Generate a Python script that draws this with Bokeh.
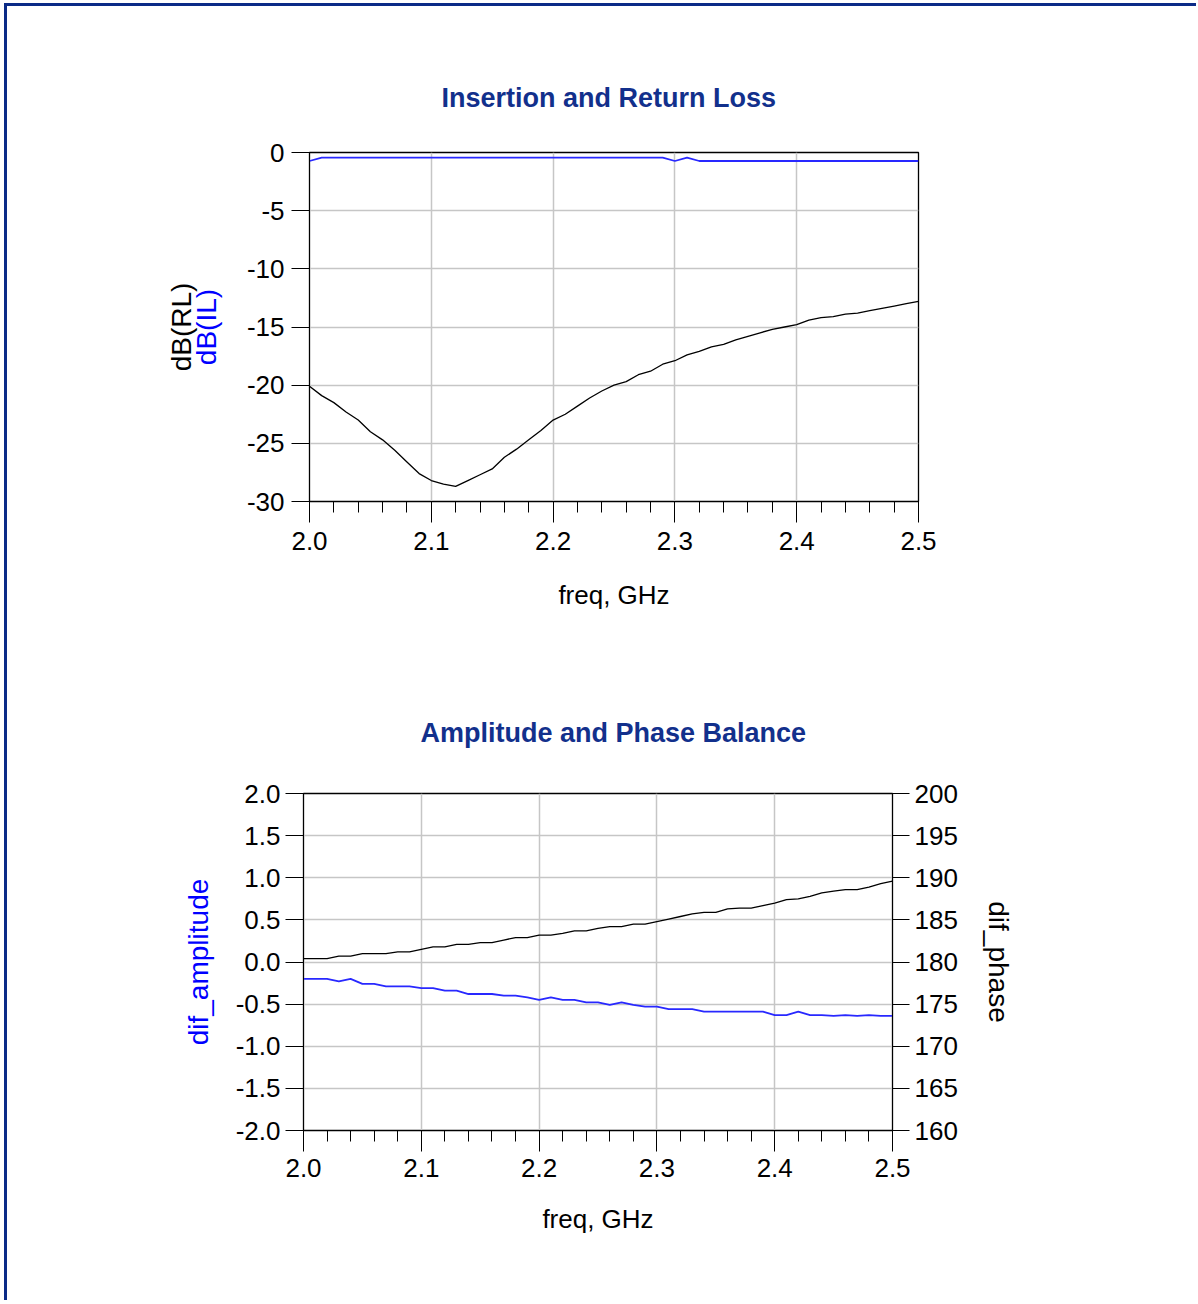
from bokeh.plotting import figure
from bokeh.models import (LinearAxis, Range1d, FixedTicker, Title, Column,
                          PrintfTickFormatter)
from bokeh.embed import file_html
from bokeh.resources import INLINE

# ---------------- data ----------------
freq = [2.00, 2.01, 2.02, 2.03, 2.04, 2.05, 2.06, 2.07, 2.08, 2.09,
        2.10, 2.11, 2.12, 2.13, 2.14, 2.15, 2.16, 2.17, 2.18, 2.19,
        2.20, 2.21, 2.22, 2.23, 2.24, 2.25, 2.26, 2.27, 2.28, 2.29,
        2.30, 2.31, 2.32, 2.33, 2.34, 2.35, 2.36, 2.37, 2.38, 2.39,
        2.40, 2.41, 2.42, 2.43, 2.44, 2.45, 2.46, 2.47, 2.48, 2.49, 2.50]

db_rl = [-20.1, -20.9, -21.5, -22.3, -23.0, -24.0, -24.7, -25.6, -26.6, -27.6,
         -28.2, -28.5, -28.7, -28.2, -27.7, -27.2, -26.2, -25.5, -24.7, -23.9,
         -23.0, -22.5, -21.8, -21.1, -20.5, -20.0, -19.7, -19.1, -18.8, -18.2,
         -17.9, -17.4, -17.1, -16.7, -16.5, -16.1, -15.8, -15.5, -15.2, -15.0,
         -14.8, -14.4, -14.2, -14.1, -13.9, -13.8, -13.6, -13.4, -13.2, -13.0, -12.8]

db_il = [-0.73, -0.44, -0.44, -0.44, -0.44, -0.44, -0.44, -0.44, -0.44, -0.44,
         -0.44, -0.44, -0.44, -0.44, -0.44, -0.44, -0.44, -0.44, -0.44, -0.44,
         -0.44, -0.44, -0.44, -0.44, -0.44, -0.44, -0.44, -0.44, -0.44, -0.44,
         -0.73, -0.44, -0.73, -0.73, -0.73, -0.73, -0.73, -0.73, -0.73, -0.73,
         -0.73, -0.73, -0.73, -0.73, -0.73, -0.73, -0.73, -0.73, -0.73, -0.73, -0.73]

dif_amplitude = [-0.20, -0.20, -0.20, -0.23, -0.20, -0.26, -0.26, -0.29, -0.29, -0.29,
                 -0.31, -0.31, -0.34, -0.34, -0.38, -0.38, -0.38, -0.40, -0.40, -0.42,
                 -0.45, -0.42, -0.45, -0.45, -0.48, -0.48, -0.51, -0.48, -0.51, -0.53,
                 -0.53, -0.56, -0.56, -0.56, -0.59, -0.59, -0.59, -0.59, -0.59, -0.59,
                 -0.63, -0.63, -0.59, -0.63, -0.63, -0.64, -0.63, -0.64, -0.63, -0.64, -0.64]

dif_phase = [180.4, 180.4, 180.4, 180.7, 180.7, 181.0, 181.0, 181.0, 181.2, 181.2,
             181.5, 181.8, 181.8, 182.1, 182.1, 182.3, 182.3, 182.6, 182.9, 182.9,
             183.2, 183.2, 183.4, 183.7, 183.7, 184.0, 184.2, 184.2, 184.5, 184.5,
             184.8, 185.1, 185.4, 185.7, 185.9, 185.9, 186.3, 186.4, 186.4, 186.7,
             187.0, 187.4, 187.5, 187.8, 188.2, 188.4, 188.6, 188.6, 188.9, 189.3, 189.6]

x_major = [2.0, 2.1, 2.2, 2.3, 2.4, 2.5]
x_minor = [2.02, 2.04, 2.06, 2.08, 2.12, 2.14, 2.16, 2.18, 2.22, 2.24, 2.26, 2.28,
           2.32, 2.34, 2.36, 2.38, 2.42, 2.44, 2.46, 2.48]
y1_ticks = [-30, -25, -20, -15, -10, -5, 0]
y2_ticks = [-2.0, -1.5, -1.0, -0.5, 0.0, 0.5, 1.0, 1.5, 2.0]
y2r_ticks = [160, 165, 170, 175, 180, 185, 190, 195, 200]

FONT = "Liberation Sans"
NAVY = "#12308C"
BLUE = "#0000FF"
LINEBLUE = "#2828FF"
GRID = "#C6C6C6"


def style_common(p):
    p.background_fill_color = "white"
    p.border_fill_color = "white"
    p.border_fill_alpha = 0
    p.outline_line_color = "black"
    p.outline_line_width = 1.3
    p.xgrid.grid_line_color = GRID
    p.ygrid.grid_line_color = GRID
    p.xgrid.grid_line_width = 1.5
    p.ygrid.grid_line_width = 1.5
    for ax in p.xaxis:
        ax.ticker = FixedTicker(ticks=x_major, minor_ticks=x_minor)
        ax.formatter = PrintfTickFormatter(format="%.1f")
        ax.major_tick_out = 21
        ax.major_tick_in = 0
        ax.minor_tick_out = 11
        ax.minor_tick_in = 0
        ax.major_tick_line_color = "black"
        ax.minor_tick_line_color = "black"
        ax.axis_line_color = "black"
        ax.major_label_text_font = FONT
        ax.major_label_text_font_size = "26px"
        ax.major_label_text_color = "black"
        ax.axis_label = "freq, GHz"
        ax.axis_label_text_font = FONT
        ax.axis_label_text_font_size = "26px"
        ax.axis_label_text_font_style = "normal"
        ax.axis_label_text_color = "black"


def style_y(ax, ticks, fmt):
    ax.ticker = FixedTicker(ticks=ticks)
    ax.formatter = PrintfTickFormatter(format=fmt)
    ax.major_tick_out = 18
    ax.major_tick_in = 0
    ax.minor_tick_out = 0
    ax.minor_tick_in = 0
    ax.major_tick_line_color = "black"
    ax.axis_line_color = "black"
    ax.major_label_text_font = FONT
    ax.major_label_text_font_size = "26px"
    ax.major_label_text_color = "black"
    ax.major_label_standoff = 5
    ax.axis_label_text_font = FONT
    ax.axis_label_text_font_size = "28px"
    ax.axis_label_text_font_style = "normal"


# ---------------- top chart ----------------
p1 = figure(frame_width=609, frame_height=349,
            min_border_left=302, min_border_right=278,
            min_border_top=146, min_border_bottom=159,
            x_range=Range1d(2.0, 2.5), y_range=Range1d(-30, 0),
            output_backend="svg", toolbar_location=None)
p1.title = Title(text="Insertion and Return Loss", align="left",
                 text_font=FONT, text_font_size="27px", text_font_style="bold",
                 text_color=NAVY, standoff=80, offset=132)
style_common(p1)
p1.xaxis.major_label_standoff = 9
p1.xaxis.axis_label_standoff = 27
style_y(p1.yaxis[0], y1_ticks, "%d")
p1.yaxis.major_label_standoff = 7
p1.yaxis.axis_label = "dB(IL)"
p1.yaxis.axis_label_text_color = BLUE
p1.yaxis.axis_label_standoff = 22

ax_rl = LinearAxis(axis_label="dB(RL)", ticker=FixedTicker(ticks=[]),
                   major_label_text_font_size="0px", major_tick_out=0, major_tick_in=0,
                   minor_tick_out=0, minor_tick_in=0, major_label_standoff=0,
                   axis_line_color=None, major_tick_line_color=None,
                   minor_tick_line_color=None, axis_label_standoff=-9,
                   axis_label_text_font=FONT, axis_label_text_font_size="28px",
                   axis_label_text_font_style="normal", axis_label_text_color="black")
p1.add_layout(ax_rl, "left")

p1.line(freq, db_rl, line_color="black", line_width=1.3)
p1.line(freq, db_il, line_color=LINEBLUE, line_width=1.8)

# ---------------- bottom chart ----------------
p2 = figure(frame_width=589, frame_height=337,
            min_border_left=302, min_border_right=289,
            min_border_top=133, min_border_bottom=170,
            x_range=Range1d(2.0, 2.5), y_range=Range1d(-2.0, 2.0),
            output_backend="svg", toolbar_location=None)
p2.margin = (0, 0, 0, -6)
p2.title = Title(text="Amplitude and Phase Balance", align="left",
                 text_font=FONT, text_font_size="27px", text_font_style="bold",
                 text_color=NAVY, standoff=92, offset=117)
p2.extra_y_ranges = {"phase": Range1d(160, 200)}
style_common(p2)
p2.xaxis.major_label_standoff = 7
p2.xaxis.axis_label_standoff = 24
style_y(p2.yaxis[0], y2_ticks, "%.1f")
p2.yaxis.axis_label = "dif_amplitude"
p2.yaxis.axis_label_text_color = BLUE
p2.yaxis.axis_label_standoff = 19

ax_ph = LinearAxis(y_range_name="phase", axis_label="dif_phase")
style_y(ax_ph, y2r_ticks, "%d")
ax_ph.major_tick_out = 17
ax_ph.axis_label_text_color = "black"
ax_ph.axis_label_standoff = 22
p2.add_layout(ax_ph, "right")

p2.line(freq, dif_amplitude, line_color=LINEBLUE, line_width=1.8)
p2.line(freq, dif_phase, line_color="black", line_width=1.3, y_range_name="phase")

layout = Column(children=[p1, p2], margin=(3, 0, 0, 4),
                styles={"border-top": "3px solid #0B2A87",
                        "border-left": "3px solid #0B2A87",
                        "background-color": "white"})

open("out.html", "w").write(file_html(layout, INLINE))
